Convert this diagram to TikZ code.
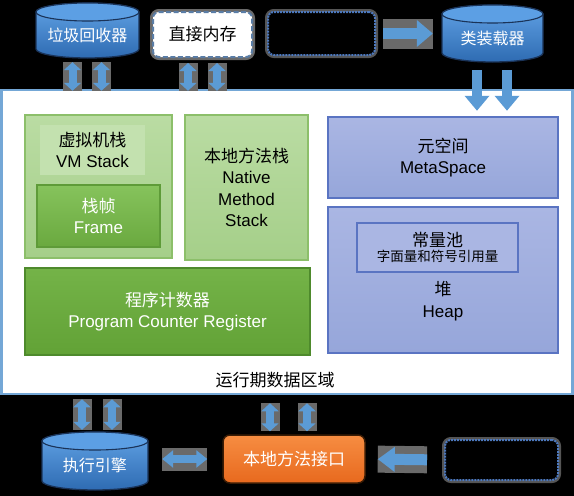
\documentclass[tikz,border=0pt]{standalone}
\usepackage{fontspec}
\setmainfont{Liberation Sans}
\newfontfamily\cjk{Noto Sans CJK SC}
\usetikzlibrary{arrows.meta,shadows}
\definecolor{arrowc}{HTML}{5B9BD5}
\definecolor{halo}{HTML}{6A6A6A}
\definecolor{cylA}{HTML}{62A3E6}
\definecolor{cylB}{HTML}{2E6BB2}
\definecolor{cylT}{HTML}{5C9FE4}
\definecolor{cylE}{HTML}{1A3358}
\definecolor{panelE}{HTML}{74A7D6}
\definecolor{gA}{HTML}{BADCA3}
\definecolor{gB}{HTML}{A5CF89}
\definecolor{gE}{HTML}{8CBF6A}
\definecolor{gHead}{HTML}{C3E1AF}
\definecolor{fA}{HTML}{86C35C}
\definecolor{fB}{HTML}{6AA93F}
\definecolor{fE}{HTML}{5E9B38}
\definecolor{pA}{HTML}{74B348}
\definecolor{pB}{HTML}{62A236}
\definecolor{pE}{HTML}{4E8A2C}
\definecolor{bA}{HTML}{AAB6E3}
\definecolor{bB}{HTML}{96A6DA}
\definecolor{bE}{HTML}{5A74C2}
\definecolor{oA}{HTML}{F68D42}
\definecolor{oB}{HTML}{E8691E}
\definecolor{oE}{HTML}{3A1C05}
\definecolor{dashE}{HTML}{5A7DA6}
\definecolor{dotE}{HTML}{4D79BE}
\newcommand\jcyl[6]{%
  \path[cylbody] (#2-#4,#3-#5+9) -- (#2-#4,#3+#5-9)
    arc[start angle=180,end angle=360,x radius=#4pt,y radius=9pt]
    -- (#2+#4,#3-#5+9)
    arc[start angle=0,end angle=180,x radius=#4pt,y radius=9pt] -- cycle;
  \path[cyltop] (#2,#3-#5+9) ellipse[x radius=#4pt,y radius=9pt];
  \node[inner sep=0pt,minimum width=2*#4pt,minimum height=2*#5pt] (#1) at (#2,#3) {};
  \node[cyltext] (#1t) at (#2,#3+4.5) {#6};
}
\begin{document}
\begin{tikzpicture}[x=1pt,y=-1pt,
  lbl/.style={font=\fontsize{17}{21.5}\selectfont,align=center,inner sep=0pt},
  cyltext/.style={font=\cjk\fontsize{16}{20}\selectfont,text=white,inner sep=0pt},
  cylbody/.style={top color=cylA,bottom color=cylB,draw=cylE,line width=1.3pt},
  cyltop/.style={fill=cylT,draw=cylE,line width=1.1pt},
  box/.style={rectangle,inner sep=0pt},
  gbox/.style={box,draw=gE,line width=2pt,top color=gA,bottom color=gB},
  framebox/.style={box,draw=fE,line width=1.5pt,top color=fA,bottom color=fB},
  pcbox/.style={box,draw=pE,line width=1.5pt,top color=pA,bottom color=pB},
  bbox/.style={box,draw=bE,line width=2pt,top color=bA,bottom color=bB},
  dblv/.style={draw=arrowc,line width=8pt,
    {Triangle[width=17pt,length=8pt]}-{Triangle[width=17pt,length=8pt]},
    preaction={draw=halo,line width=19pt,arrows=-}},
  dblh/.style={draw=arrowc,line width=8pt,
    {Triangle[width=17pt,length=11pt]}-{Triangle[width=17pt,length=11pt]},
    preaction={draw=halo,line width=23pt,arrows=-}},
  sgl/.style={draw=arrowc,line width=10.5pt,
    -{Triangle[width=26pt,length=16pt]},
    preaction={draw=halo,line width=30pt,arrows=-}},
  sgld/.style={draw=arrowc,line width=10pt,-{Triangle[width=24pt,length=15pt]}},
  sgll/.style={draw=arrowc,line width=11pt,-{Triangle[width=24pt,length=17pt]},
    preaction={draw=halo,line width=27pt,arrows=-}}
]
\fill[black] (0,0) rectangle (574,496);
\useasboundingbox (0,0) rectangle (574,496);

% main panel
\node[box,fill=white,draw=panelE,line width=2.5pt,minimum width=571pt,minimum height=304pt] (panel) at (287,242) {};

% top row
\jcyl{gc}{87.5}{30.5}{51.5}{27.5}{垃圾回收器}
\jcyl{cl}{492.5}{33.5}{50.5}{28.5}{类装载器}
\node[box,fill=white,draw=dashE,line width=2pt,dash pattern=on 5pt off 2.5pt,rounded corners=6pt,
  minimum width=99pt,minimum height=45pt,font=\cjk\fontsize{17}{20}\selectfont,
  preaction={draw=halo,line width=6pt,solid,sharp corners}] (dm) at (202.5,34.5) {直接内存};
\node[box,fill=black,draw=dotE,line width=2pt,densely dotted,rounded corners=6pt,
  minimum width=107pt,minimum height=43pt,
  preaction={draw=halo!80!black,line width=6pt,solid,sharp corners}] (dk1) at (321.5,33.5) {};

% bottom row
\jcyl{exe}{95}{461}{53}{29}{执行引擎}
\node[box,top color=oA,bottom color=oB,draw=oE,line width=1.5pt,rounded corners=7pt,
  minimum width=142pt,minimum height=48pt,text=white,font=\cjk\fontsize{17}{20}\selectfont] (nmi) at (294,459) {本地方法接口};
\node[box,fill=black,draw=dotE,line width=2pt,densely dotted,rounded corners=6pt,
  minimum width=113pt,minimum height=40pt,
  preaction={draw=halo!80!black,line width=6pt,solid,sharp corners}] (dk2) at (501.5,460) {};

% green area
\node[gbox,minimum width=147pt,minimum height=143pt] (vm) at (98.5,186.5) {};
\node[box,fill=gHead,minimum width=105pt,minimum height=50pt,lbl] (vmhead) at (92.5,150) {{\cjk 虚拟机栈}\\VM Stack};
\node[framebox,minimum width=123pt,minimum height=62pt,lbl,text=white] (frame) at (98.5,216) {{\cjk 栈帧}\\Frame};
\node[gbox,minimum width=123pt,minimum height=145pt,lbl] (native) at (246.5,187.5) {{\cjk 本地方法栈}\\Native\\Method\\Stack};
\node[pcbox,minimum width=285pt,minimum height=87pt,lbl,text=white] (pc) at (167.5,311.5) {{\cjk 程序计数器}\\Program Counter Register};

% blue area
\node[bbox,minimum width=230pt,minimum height=81pt,lbl] (meta) at (443,157.5) {{\cjk 元空间}\\MetaSpace};
\node[bbox,minimum width=230pt,minimum height=146pt] (heap) at (443,280) {};
\node[box,fill=bA,draw=bE,line width=2pt,minimum width=161pt,minimum height=49pt,align=center] (pool) at (437.5,247.5)
  {{\cjk\fontsize{17}{20}\selectfont 常量池}\\[1pt]{\cjk\fontsize{13.5}{16}\selectfont 字面量和符号引用量}};
\node[lbl] (heaplbl) at (443,301) {{\cjk 堆}\\Heap};

\node[font=\cjk\fontsize{17}{20}\selectfont,inner sep=0pt] (title) at (275,380) {运行期数据区域};

% connectors
\draw[dblv,shorten <=4pt,shorten >=-2pt] ([xshift=-15pt]gc.south) -- ([xshift=-15pt]gc.south |- panel.north);
\draw[dblv,shorten <=4pt,shorten >=-2pt] ([xshift=14pt]gc.south) -- ([xshift=14pt]gc.south |- panel.north);
\draw[dblv,shorten <=5pt,shorten >=-2pt] ([xshift=-14.5pt]dm.south) -- ([xshift=-14.5pt]dm.south |- panel.north);
\draw[dblv,shorten <=5pt,shorten >=-2pt] ([xshift=14.5pt]dm.south) -- ([xshift=14.5pt]dm.south |- panel.north);
\draw[sgld,shorten <=8pt,shorten >=-22pt] ([xshift=-15.5pt]cl.south) -- ([xshift=-15.5pt]cl.south |- panel.north);
\draw[sgld,shorten <=8pt,shorten >=-22pt] ([xshift=14.5pt]cl.south) -- ([xshift=14.5pt]cl.south |- panel.north);
\draw[sgl,shorten <=7pt,shorten >=9pt] (dk1.east) -- (dk1.east -| cl.west);

\draw[dblv,shorten <=4pt,shorten >=2pt] ([xshift=-13pt]exe.north |- panel.south) -- ([xshift=-13pt]exe.north);
\draw[dblv,shorten <=4pt,shorten >=2pt] ([xshift=17pt]exe.north |- panel.south) -- ([xshift=17pt]exe.north);
\draw[dblv,shorten <=8pt,shorten >=3pt] ([xshift=-24pt]nmi.north |- panel.south) -- ([xshift=-24pt]nmi.north);
\draw[dblv,shorten <=8pt,shorten >=3pt] ([xshift=13pt]nmi.north |- panel.south) -- ([xshift=13pt]nmi.north);
\draw[dblh,shorten <=14pt,shorten >=15pt] (exe.east |- nmi.west) -- (nmi.west);
\draw[sgll,shorten <=17pt,shorten >=12pt] (dk2.west) -- (nmi.east);
\end{tikzpicture}
\end{document}
